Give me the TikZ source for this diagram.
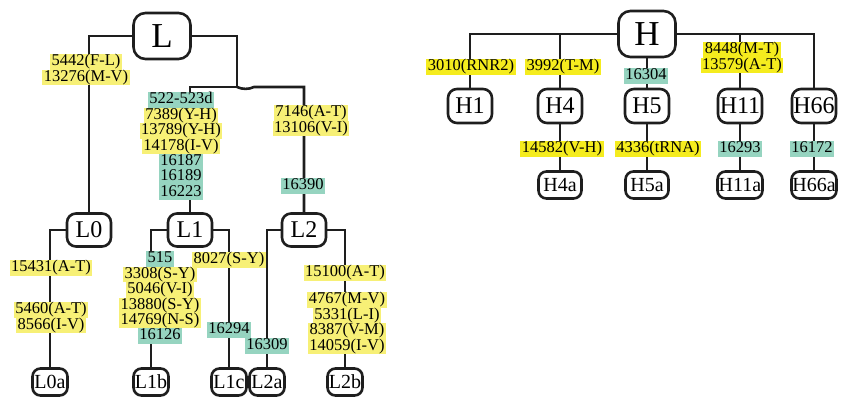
\documentclass[tikz,border=0pt]{standalone}
\usepackage{fontspec}
\setmainfont{Liberation Serif}
\usepackage{xcolor}
\usepackage{tikz}
\usetikzlibrary{positioning}

\definecolor{mutL}{RGB}{247,240,118}
\definecolor{mutH}{RGB}{245,236,30}
\definecolor{ctrl}{RGB}{150,212,192}
\definecolor{ink}{RGB}{30,30,30}

\tikzset{
  hap/.style={draw=ink, line width=2.6pt, rounded corners=9pt, inner sep=0pt,
    font=\fontsize{24}{24}\selectfont, minimum width=44pt, minimum height=33pt},
  root/.style={hap, rounded corners=12pt, font=\fontsize{35}{35}\selectfont,
    minimum width=57pt, minimum height=46pt},
  leaf/.style={hap, rounded corners=8pt, font=\fontsize{20}{20}\selectfont,
    minimum width=35pt, minimum height=27pt},
  mutbox/.style={inner xsep=1.5pt, inner ysep=0pt, outer sep=0pt, text height=11.6pt,
    text depth=3.8pt, font=\fontsize{16.5}{16.5}\selectfont},
  yl/.style={mutbox, fill=mutL},
  yh/.style={mutbox, fill=mutH},
  gr/.style={mutbox, fill=ctrl},
  edge/.style={draw=ink, line width=2.6pt}
}

\begin{document}
\begin{tikzpicture}[x=1pt,y=-1pt]
    \useasboundingbox (0,0) rectangle (850,409);

    % haplogroup L
    \node[root] (L) at (162,36) {L};
    \node[hap] (L0) at (89,230) {L0};
    \node[hap] (L1) at (190,230) {L1};
    \node[hap] (L2) at (304,230) {L2};
    \node[leaf] (L0a) at (50,382) {L0a};
    \node[leaf] (L1b) at (151,382) {L1b};
    \node[leaf] (L1c) at (229,382) {L1c};
    \node[leaf] (L2a) at (267,382) {L2a};
    \node[leaf] (L2b) at (345,382) {L2b};
    \coordinate (jL) at (237,87);
    \coordinate (jLb) at (254,87);

    \draw[edge] (L.west) -| (L0.north);
    \draw[edge] (L.east) -| (jL);
    \draw[edge] (L1.north) |- (jL);
    \draw[edge] (jL) .. controls (242,89.5) and (249,89.5) .. (jLb) -| (L2.north);
    \draw[edge] (L0.west) -| (L0a.north);
    \draw[edge] (L1.west) -| (L1b.north);
    \draw[edge] (L1.east) -| (L1c.north);
    \draw[edge] (L2.west) -| (L2a.north);
    \draw[edge] (L2.east) -| (L2b.north);

    \node[yl] (m5442) at (86,62) {5442(F-L)};
    \node[yl, below=0pt of m5442] (m13276) {13276(M-V)};

    \node[gr] (m522) at (181,100) {522-523d};
    \node[yl, below=0pt of m522] (m7389) {7389(Y-H)};
    \node[yl, below=0pt of m7389] (m13789) {13789(Y-H)};
    \node[yl, below=0pt of m13789] (m14178) {14178(I-V)};
    \node[gr, below=0pt of m14178] (m16187) {16187};
    \node[gr, below=0pt of m16187] (m16189) {16189};
    \node[gr, below=0pt of m16189] (m16223) {16223};

    \node[yl] (m7146) at (311,113) {7146(A-T)};
    \node[yl, below=0pt of m7146] (m13106) {13106(V-I)};
    \node[gr] (m16390) at (303,186) {16390};

    \node[yl] (m15431) at (51,268) {15431(A-T)};
    \node[yl] (m5460) at (51,310) {5460(A-T)};
    \node[yl, below=0pt of m5460] (m8566) {8566(I-V)};

    \node[gr] (m515) at (160,259) {515};
    \node[yl, below=0pt of m515] (m3308) {3308(S-Y)};
    \node[yl, below=0pt of m3308] (m5046) {5046(V-I)};
    \node[yl, below=0pt of m5046] (m13880) {13880(S-Y)};
    \node[yl, below=0pt of m13880] (m14769) {14769(N-S)};
    \node[gr, below=0pt of m14769] (m16126) {16126};

    \node[yl] (m8027) at (229,260) {8027(S-Y)};
    \node[gr] (m16294) at (229,330) {16294};
    \node[gr] (m16309) at (267,346) {16309};

    \node[yl] (m15100) at (345,273) {15100(A-T)};
    \node[yl] (m4767) at (347,300) {4767(M-V)};
    \node[yl, below=0pt of m4767] (m5331) {5331(L-I)};
    \node[yl, below=0pt of m5331] (m8387) {8387(V-M)};
    \node[yl, below=0pt of m8387] (m14059) {14059(I-V)};

    % haplogroup H
    \node[root] (H) at (647,34) {H};
    \node[hap, minimum height=34pt] (H1) at (470,106) {H1};
    \node[hap, minimum height=34pt] (H4) at (560,106) {H4};
    \node[hap, minimum height=34pt] (H5) at (647,106) {H5};
    \node[hap, minimum height=34pt] (H11) at (740,106) {H11};
    \node[hap, minimum height=34pt] (H66) at (814,106) {H66};
    \node[leaf, minimum width=43pt] (H4a) at (560,185) {H4a};
    \node[leaf, minimum width=43pt] (H5a) at (647,185) {H5a};
    \node[leaf, minimum width=45pt] (H11a) at (740,185) {H11a};
    \node[leaf, minimum width=45pt] (H66a) at (814,185) {H66a};

    \draw[edge] (H.west) -| (H1.north);
    \draw[edge] (H4.north) |- (H.west);
    \draw[edge] (H.south) -- (H5.north);
    \draw[edge] (H11.north) |- (H.east);
    \draw[edge] (H.east) -| (H66.north);
    \draw[edge] (H4) -- (H4a);
    \draw[edge] (H5) -- (H5a);
    \draw[edge] (H11) -- (H11a);
    \draw[edge] (H66) -- (H66a);

    \node[yh] (m3010) at (471,67) {3010(RNR2)};
    \node[yh] (m3992) at (563,67) {3992(T-M)};
    \node[gr] (m16304) at (646,76) {16304};
    \node[yh] (m8448) at (742,50) {8448(M-T)};
    \node[yh, below=0pt of m8448] (m13579) {13579(A-T)};
    \node[yh] (m14582) at (562,149) {14582(V-H)};
    \node[yh] (m4336) at (658,149) {4336(tRNA)};
    \node[gr] (m16293) at (740,149) {16293};
    \node[gr] (m16172) at (812,149) {16172};
\end{tikzpicture}
\end{document}
